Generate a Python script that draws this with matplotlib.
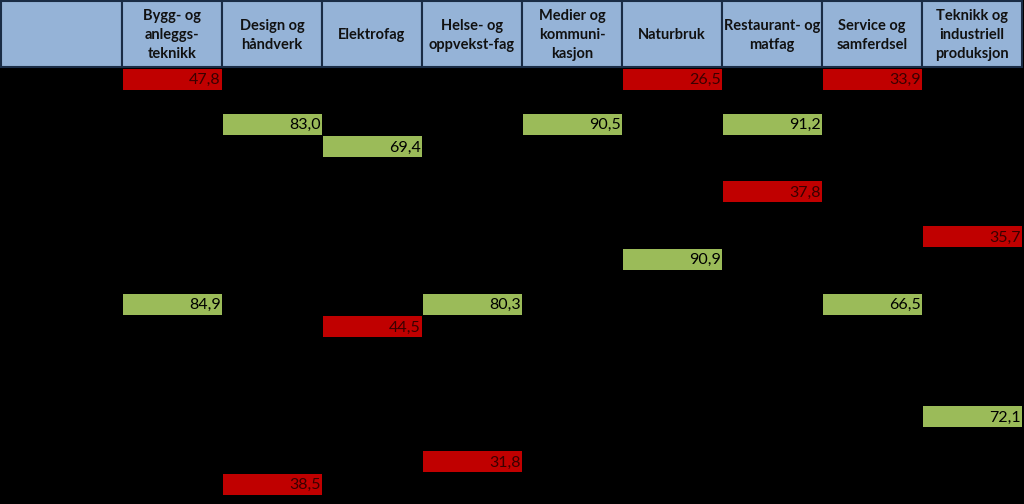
import matplotlib
matplotlib.use("Agg")
import matplotlib.pyplot as plt

# ---- data ----
categories = [
    "Bygg- og\nanleggs-\nteknikk",
    "Design og\nhåndverk",
    "Elektrofag",
    "Helse- og\noppvekst-fag",
    "Medier og\nkommuni-\nkasjon",
    "Naturbruk",
    "Restaurant- og\nmatfag",
    "Service og\nsamferdsel",
    "Teknikk og\nindustriell\nproduksjon",
]
n_rows = 19
cell_rows = [0, 0, 0, 2, 2, 2, 3, 5, 7, 8, 10, 10, 10, 11, 15, 17, 18]
cell_cols = [0, 5, 7, 1, 4, 6, 2, 6, 8, 5, 0, 3, 7, 2, 8, 3, 1]
cell_values = [47.8, 26.5, 33.9, 83.0, 90.5, 91.2, 69.4, 37.8, 35.7, 90.9,
               84.9, 80.3, 66.5, 44.5, 72.1, 31.8, 38.5]
cell_good = [False, False, False, True, True, True, True, False, False, True,
             True, True, True, False, True, False, False]

# ---- style ----
RED = "#c00000"
GREEN = "#9bbb59"
HEADER = "#95b3d7"
BORDER = "#1a2c45"
FIRST_W = 1.22          # width of the label column, in column units
HEADER_H = 3.02         # header height, in row units
BOTTOM_PAD = 0.38

plt.rcParams['font.family'] = ['Lato', 'DejaVu Sans']
fig = plt.figure(figsize=(10.24, 5.04), dpi=100, facecolor="black")
ax = fig.add_axes([0, 0, 1, 1])
ax.set_facecolor("black")
ax.set_xlim(-FIRST_W, len(categories) + 0.02)
ax.set_ylim(n_rows + BOTTOM_PAD, -HEADER_H)
ax.axis("off")

# header cells
ax.bar([-FIRST_W + 0.01], [HEADER_H - 0.1], width=FIRST_W - 0.01, bottom=-HEADER_H + 0.05,
       align="edge", color=HEADER, edgecolor=BORDER, linewidth=1.5)
ax.bar(range(len(categories)), [HEADER_H - 0.1] * len(categories), width=1,
       bottom=-HEADER_H + 0.05, align="edge", color=HEADER, edgecolor=BORDER, linewidth=1.5)
for i, name in enumerate(categories):
    ax.text(i + 0.5, -HEADER_H / 2 + 0.05, name, ha="center", va="center",
            fontsize=10.5, fontweight="bold", color="#111111", linespacing=1.45)

# value cells
colors = [GREEN if g else RED for g in cell_good]
ax.barh([r + 0.5 for r in cell_rows], [0.99] * len(cell_cols), left=[c + 0.005 for c in cell_cols],
        height=0.92, color=colors, linewidth=0)
for r, c, v, g in zip(cell_rows, cell_cols, cell_values, cell_good):
    label = f"{v:.1f}".replace(".", ",")
    ax.text(c + 0.985, r + 0.55, label, ha="right", va="center", fontsize=11.5,
            color="#000000" if g else "#3a0000")

fig.savefig("out.png", dpi=100, facecolor="black")
